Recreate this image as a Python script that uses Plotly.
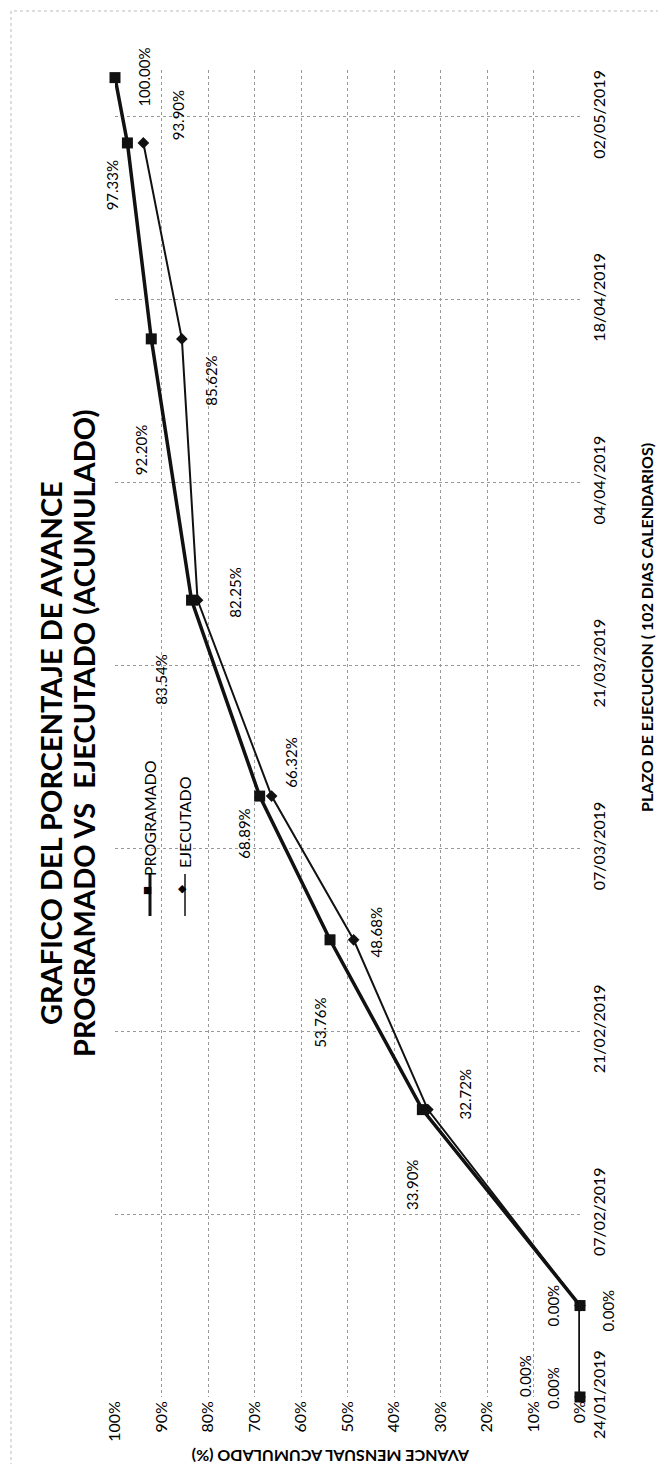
import plotly.graph_objects as go

# datos del grafico (avance acumulado en %)
fechas_prog = ["2019-01-24", "2019-01-31", "2019-02-15", "2019-02-28", "2019-03-11",
               "2019-03-26", "2019-04-15", "2019-04-30", "2019-05-05"]
programado = [0.00, 0.00, 33.90, 53.76, 68.89, 83.54, 92.20, 97.33, 100.00]

fechas_ejec = ["2019-01-24", "2019-01-31", "2019-02-15", "2019-02-28", "2019-03-11",
               "2019-03-26", "2019-04-15", "2019-04-30"]
ejecutado = [0.00, 0.00, 32.72, 48.68, 66.32, 82.25, 85.62, 93.90]

pct_ticks = [0, 10, 20, 30, 40, 50, 60, 70, 80, 90, 100]
pct_labels = ["0%", "10%", "20%", "30%", "40%", "50%", "60%", "70%", "80%", "90%", "100%"]
fecha_ticks = ["2019-01-24", "2019-02-07", "2019-02-21", "2019-03-07",
               "2019-03-21", "2019-04-04", "2019-04-18", "2019-05-02"]
fecha_labels = ["24/01/2019", "07/02/2019", "21/02/2019", "07/03/2019",
                "21/03/2019", "04/04/2019", "18/04/2019", "02/05/2019"]

# desplazamiento de las etiquetas (pixeles)
off_prog = [(-27, 9), (-27, 0), (-11, -75), (-10, -83), (-16, -38),
            (-30, -80), (-10, -111), (-15, -42), (29, 0)]
off_ejec = [(-55, 21), (28, -5), (37, 15), (22, 7), (19, 33),
            (38, 7), (29, -42), (35, 28)]

W, H = 666, 1464
L, R, T, B = 107, 94, 62, 75
FONT = "Lato, Carlito, Calibri, sans-serif"
INK = "#111111"


def px(x):
    return (x - L) / (W - L - R)


def py(y):
    return (H - B - y) / (H - T - B)


fig = go.Figure()
fig.add_trace(go.Scatter(x=programado, y=fechas_prog, mode="lines+markers", name="PROGRAMADO",
                         line=dict(color=INK, width=3.5), cliponaxis=False,
                         marker=dict(symbol="square", size=11, color=INK)))
fig.add_trace(go.Scatter(x=ejecutado, y=fechas_ejec, mode="lines+markers", name="EJECUTADO",
                         line=dict(color=INK, width=2), cliponaxis=False,
                         marker=dict(symbol="diamond", size=9, color=INK)))

anns = []
for v, f, (dx, dy) in zip(programado, fechas_prog, off_prog):
    anns.append(dict(x=v, y=f, xref="x", yref="y", text="%.2f%%" % v, showarrow=False,
                     textangle=-90, xshift=dx, yshift=dy, font=dict(size=15, color="black")))
for v, f, (dx, dy) in zip(ejecutado, fechas_ejec, off_ejec):
    anns.append(dict(x=v, y=f, xref="x", yref="y", text="%.2f%%" % v, showarrow=False,
                     textangle=-90, xshift=dx, yshift=dy, font=dict(size=15, color="black")))


def texto(x, y, txt, size, angle=-90, bold=False, **kw):
    if bold:
        txt = "<b>" + txt + "</b>"
    d = dict(x=px(x), y=py(y), xref="paper", yref="paper", showarrow=False, textangle=angle,
             text=txt, xanchor="center", yanchor="middle", font=dict(size=size, color="black"))
    d.update(kw)
    anns.append(d)


# titulo y titulos de ejes (girados como en la hoja escaneada)
texto(42, 745, "GRAFICO DEL PORCENTAJE DE AVANCE", 29, bold=True)
texto(75, 725, "PROGRAMADO VS\u00a0 EJECUTADO (ACUMULADO)", 29, bold=True)
texto(323, 1449, "AVANCE MENSUAL ACUMULADO (%)", 16, angle=180, bold=True)
texto(638, 620, "PLAZO DE EJECUCION ( 102 DIAS CALENDARIOS)", 16, bold=True)

# leyenda manual (girada)
texto(139, 881, "■", 15, angle=0)
texto(141, 810, "PROGRAMADO", 16)
texto(174, 880, "◆", 11, angle=0)
texto(176, 814, "EJECUTADO", 16)
leyenda = [
    dict(type="line", xref="paper", yref="paper", x0=px(142), x1=px(142), y0=py(866), y1=py(908),
         line=dict(color=INK, width=3)),
    dict(type="line", xref="paper", yref="paper", x0=px(177), x1=px(177), y0=py(866), y1=py(908),
         line=dict(color=INK, width=1.5)),
]

fig.update_layout(
    width=W, height=H,
    margin=dict(l=L, r=R, t=T, b=B),
    plot_bgcolor="white", paper_bgcolor="white",
    showlegend=False,
    font=dict(family=FONT, color=INK),
    annotations=anns,
    shapes=[dict(type="rect", xref="paper", yref="paper", x0=px(3), x1=px(663), y0=py(1461), y1=py(3),
                 line=dict(color="#bbbbbb", width=1, dash="dot"))] + leyenda,
)
fig.update_xaxes(range=[100, 0], tickvals=pct_ticks, ticktext=pct_labels, tickangle=-90,
                 showgrid=True, gridcolor="#999999", griddash="dot", gridwidth=1,
                 zeroline=False, showline=False, ticks="", tickfont=dict(size=16, color="black"))
fig.update_yaxes(type="date", range=["2019-01-24", "2019-05-05 14:00"],
                 tickvals=fecha_ticks, ticktext=fecha_labels, side="right", tickangle=-90,
                 ticklabelstandoff=8,
                 showgrid=True, gridcolor="#999999", griddash="dot", gridwidth=1,
                 zeroline=False, showline=False, ticks="", tickfont=dict(size=16, color="black"))

fig.write_html("out.html")
